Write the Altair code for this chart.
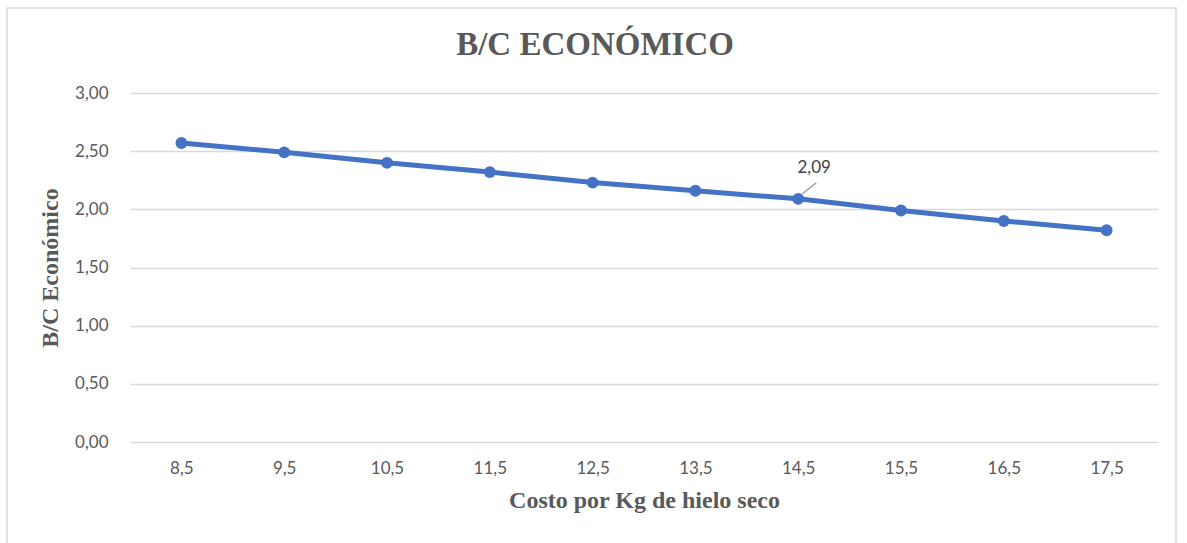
import altair as alt
import pandas as pd

# Cost per kg of dry ice and the resulting economic B/C ratio
costo = ["8,5", "9,5", "10,5", "11,5", "12,5", "13,5", "14,5", "15,5", "16,5", "17,5"]
bc = [2.57, 2.49, 2.40, 2.32, 2.23, 2.16, 2.09, 1.99, 1.90, 1.82]
etiqueta_costo = ["14,5"]  # point that carries a data label
titulo = "B/C ECONÓMICO"

df = pd.DataFrame({"costo": costo, "bc": bc})
df_lbl = df[df["costo"].isin(etiqueta_costo)]
df_title = pd.DataFrame({"t": [titulo]})

SERIF = "Liberation Serif"
SANS = "Lato"
GRAY = "#595959"
BLUE = "#4472C4"

x_enc = alt.X(
    "costo:N",
    sort=costo,
    scale=alt.Scale(type="point", padding=0.5),
    axis=alt.Axis(
        title="Costo por  Kg de hielo seco",
        titleFont=SERIF, titleFontSize=24, titleFontWeight="bold", titleColor=GRAY,
        titlePadding=12,
        labelFont=SANS, labelFontSize=17, labelColor=GRAY, labelPadding=18,
        labelAngle=0, ticks=False, domain=False, grid=False,
    ),
)
y_enc = alt.Y(
    "bc:Q",
    scale=alt.Scale(domain=[0, 3], nice=False, zero=True),
    axis=alt.Axis(
        title="B/C Económico",
        titleFont=SERIF, titleFontSize=24, titleFontWeight="bold", titleColor=GRAY,
        titlePadding=12,
        labelFont=SANS, labelFontSize=17, labelColor=GRAY, labelPadding=22,
        values=[0, 0.5, 1, 1.5, 2, 2.5, 3],
        labelExpr="replace(format(datum.value, '.2f'), '.', ',')",
        ticks=False, domain=False,
        gridColor="#d9d9d9", gridWidth=1.5,
    ),
)

border = alt.Chart(df.head(1)).mark_rect(
    fill=None, stroke="#d9d9d9", strokeWidth=1.5
).encode(
    x=alt.value(-123), x2=alt.value(1046), y=alt.value(-85), y2=alt.value(470)
)

title = alt.Chart(df_title).mark_text(
    font=SERIF, fontSize=33, fontWeight="bold", color=GRAY, baseline="middle"
).encode(
    x=alt.value(465), y=alt.value(-48), text="t:N"
)

line = alt.Chart(df).mark_line(color=BLUE, strokeWidth=5).encode(x=x_enc, y=y_enc)
points = alt.Chart(df).mark_circle(color=BLUE, size=140, opacity=1).encode(x=x_enc, y=y_enc)

leader = alt.Chart(df_lbl).mark_rule(
    color="#a6a6a6", strokeWidth=1.5,
    xOffset=4, yOffset=-5, x2Offset=18, y2Offset=-16,
).encode(
    x=alt.X("costo:N", sort=costo),
    x2="costo:N",
    y="bc:Q",
    y2="bc:Q",
)

label = alt.Chart(df_lbl).transform_calculate(
    txt="replace(format(datum.bc, '.2f'), '.', ',')"
).mark_text(
    font=SANS, fontSize=17, color="#404040", dx=16, dy=-31
).encode(
    x=alt.X("costo:N", sort=costo),
    y="bc:Q",
    text="txt:N",
)

chart = alt.layer(border, title, line, points, leader, label).properties(
    width=1028,
    height=349,
    autosize=alt.AutoSizeParams(type="none"),
    padding={"left": 130, "top": 93, "right": 29, "bottom": 101},
    background="white",
).configure_view(stroke=None)

chart.save("out.html", embed_options={"renderer": "svg", "actions": False})
